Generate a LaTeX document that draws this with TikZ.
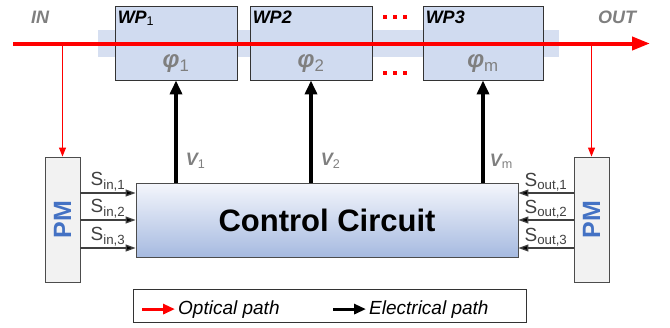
\documentclass[tikz,border=0pt]{standalone}
\usepackage{fontspec}
\setmainfont{Liberation Sans}
\usetikzlibrary{calc,arrows.meta,positioning}

\definecolor{optred}{RGB}{255,0,0}
\definecolor{labgray}{RGB}{127,127,127}
\definecolor{wpfill}{RGB}{208,219,240}
\definecolor{bandfill}{RGB}{214,223,241}
\definecolor{pmblue}{RGB}{68,114,196}
\definecolor{pmfill}{RGB}{242,242,242}
\definecolor{ctrltop}{RGB}{244,246,252}
\definecolor{ctrlbot}{RGB}{166,186,224}

\begin{document}
\begin{tikzpicture}[x=1pt,y=-1pt,
  wpbox/.style={draw=black!80,fill=wpfill,line width=0.9pt,minimum height=74pt,inner sep=0pt},
  wplab/.style={font=\fontsize{18}{20}\selectfont\bfseries\itshape,anchor=north west,inner sep=2pt,xshift=1pt,yshift=-3pt},
  philab/.style={text=labgray,font=\fontsize{24}{26}\selectfont\bfseries\itshape,anchor=base,inner sep=0pt},
  inout/.style={text=labgray,font=\fontsize{18}{20}\selectfont\bfseries\itshape},
  vlab/.style={text=labgray,font=\fontsize{18}{20}\selectfont\bfseries\itshape,inner sep=0pt},
  slab/.style={font=\fontsize{19}{21}\selectfont,inner sep=1pt},
  pmbox/.style={draw=black!70,fill=pmfill,line width=0.9pt,minimum width=35pt,minimum height=125pt,inner sep=0pt},
  pmtxt/.style={text=pmblue,font=\fontsize{25}{28}\selectfont\bfseries,rotate=90},
  optline/.style={optred,line width=4pt,-{Triangle[length=18pt,width=13pt]}},
  optarrow/.style={optred,line width=1pt,-{Triangle[length=9pt,width=7pt]}},
  elarrow/.style={black,line width=3.5pt,-{Triangle[length=14pt,width=12pt]}},
  sigarrow/.style={black!75,line width=1.3pt,-{Triangle[length=10pt,width=7pt,fill=black]}},
  legtxt/.style={font=\fontsize{19}{22}\selectfont\itshape,anchor=base west,inner sep=3pt}]
  \useasboundingbox (0,0) rectangle (670,327);

  % light band behind the wave plates
  \fill[bandfill] (98,30) rectangle (559,57);

  % wave plates
  \node[wpbox,minimum width=122pt] (wp1) at (176,43) {};
  \node[wpbox,minimum width=122pt] (wp2) at (311,43) {};
  \node[wpbox,minimum width=120pt] (wp3) at (483,43) {};
  \node[wplab] at (wp1.north west) {WP\textsubscript{\normalfont 1}};
  \node[wplab] at (wp2.north west) {WP2};
  \node[wplab] at (wp3.north west) {WP3};
  \node[philab] at ($(wp1.south)+(0,-13)$) {φ\textsubscript{\normalfont 1}};
  \node[philab] at ($(wp2.south)+(0,-13)$) {φ\textsubscript{\normalfont 2}};
  \node[philab] at ($(wp3.south)+(0,-13)$) {φ\textsubscript{\normalfont m}};

  % red dots between WP2 and WP3
  \foreach \yy in {17,73} {
    \foreach \xx in {385,395,405} {
      \fill[optred] (\xx-2,\yy-2) rectangle (\xx+2,\yy+2);
    }
  }

  % optical path
  \coordinate (in) at (13,43.5);
  \coordinate (out) at (650,43.5);
  \node[inout] (inlab) at (40,17.5) {IN};
  \node[inout] (outlab) at (617,17.5) {OUT};

  % control circuit and polarimeters
  \node[draw=black!70,line width=0.9pt,top color=ctrltop,bottom color=ctrlbot,
        minimum width=382pt,minimum height=74pt,inner sep=0pt,
        font=\fontsize{31}{34}\selectfont\bfseries] (ctrl) at (327,220) {Control Circuit};
  \node[pmbox,label={[pmtxt]center:PM}] (pmL) at (62.5,219.5) {};
  \node[pmbox,label={[pmtxt]center:PM}] (pmR) at (591.5,219.5) {};

  \draw[optline] (in) -- (out);
  \draw[optarrow] (pmL.north |- in) -- (pmL.north);
  \draw[optarrow] (pmR.north |- out) -- (pmR.north);

  % drive voltages
  \draw[elarrow] (wp1.south |- ctrl.north) -- (wp1.south)
    node[vlab,pos=0.21,right=8pt] {V\textsubscript{\normalfont 1}};
  \draw[elarrow] (wp2.south |- ctrl.north) -- (wp2.south)
    node[vlab,pos=0.21,right=8pt] {V\textsubscript{\normalfont 2}};
  \draw[elarrow] (wp3.south |- ctrl.north) -- (wp3.south)
    node[vlab,pos=0.21,right=5pt] {V\textsubscript{\normalfont m}};

  % polarimeter signals
  \foreach \i/\yy in {1/193,2/220,3/248} {
    \coordinate (s\i) at (0,\yy);
    \draw[sigarrow] (pmL.east |- s\i) -- (ctrl.west |- s\i)
      node[slab,midway,above] {S\textsubscript{in,\i}};
    \draw[sigarrow] (pmR.west |- s\i) -- (ctrl.east |- s\i)
      node[slab,midway,above] {S\textsubscript{out,\i}};
  }

  % legend
  \node[draw=black!80,line width=0.9pt,minimum width=393pt,minimum height=33pt] (legend) at (329.5,305.5) {};
  \node[legtxt] (optxt) at (175,314) {Optical path};
  \node[legtxt] (eltxt) at (366,314) {Electrical path};
  \draw[optred,line width=3pt,-{Triangle[length=12pt,width=10pt]}] ($(optxt.west)+(-33,0)$) -- (optxt.west);
  \draw[black,line width=3pt,-{Triangle[length=12pt,width=10pt]}] ($(eltxt.west)+(-33,0)$) -- (eltxt.west);
\end{tikzpicture}
\end{document}
